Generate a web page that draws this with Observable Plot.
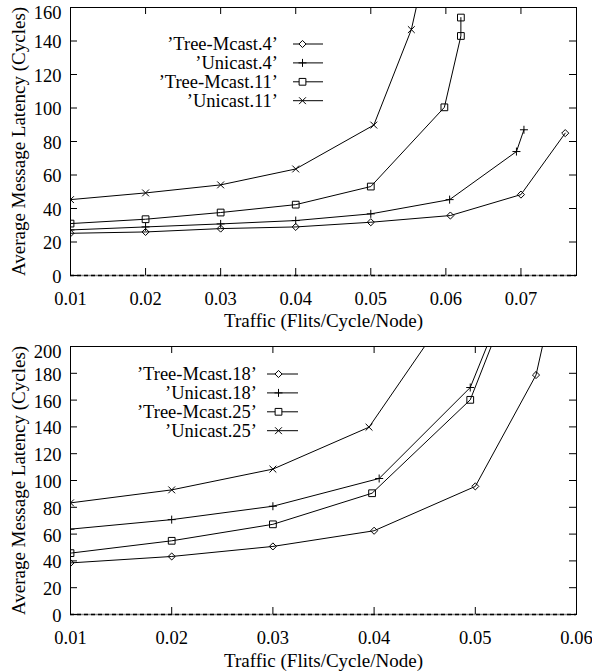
<!DOCTYPE html>
<html>
<head>
<meta charset="utf-8">
<script src="https://cdn.jsdelivr.net/npm/d3@7"></script>
<script src="https://cdn.jsdelivr.net/npm/@observablehq/plot@0.6"></script>
<style>
  body { margin: 0; background: #fff; }
  #chart { width: 592px; }
  #chart svg { display: block; }
</style>
</head>
<body>
<div id="chart"></div>
<script>
// ---------- shared labels ----------
const xTitle = "Traffic (Flits/Cycle/Node)";
const yTitle = "Average Message Latency (Cycles)";

// ---------- top chart data ----------
const topXTicks = [0.01, 0.02, 0.03, 0.04, 0.05, 0.06, 0.07];
const topYTicks = [0, 20, 40, 60, 80, 100, 120, 140, 160];
const topXDomain = [0.01, 0.0774];
const topYDomain = [0, 160];

const treeMcast4X = [0.01, 0.02, 0.03, 0.04, 0.05, 0.0606, 0.07, 0.0759];
const treeMcast4Y = [25.2, 26.0, 28.0, 29.0, 31.8, 35.8, 48.3, 85.0];
const unicast4X = [0.01, 0.02, 0.03, 0.04, 0.05, 0.0605, 0.0694, 0.0704];
const unicast4Y = [27.2, 29.0, 30.8, 32.8, 36.8, 45.3, 74.0, 87.0];
const treeMcast11X = [0.01, 0.02, 0.03, 0.04, 0.05, 0.0598, 0.062, 0.062];
const treeMcast11Y = [31.0, 33.6, 37.6, 42.3, 53.1, 100.4, 143.0, 154.0];
const unicast11X = [0.01, 0.02, 0.03, 0.04, 0.0504, 0.0554, 0.06];
const unicast11Y = [45.3, 49.3, 54.1, 63.6, 89.8, 146.8, 239.0];

// ---------- bottom chart data ----------
const botXTicks = [0.01, 0.02, 0.03, 0.04, 0.05, 0.06];
const botYTicks = [0, 20, 40, 60, 80, 100, 120, 140, 160, 180, 200];
const botXDomain = [0.01, 0.06];
const botYDomain = [0, 200];

const treeMcast18X = [0.01, 0.02, 0.03, 0.04, 0.05, 0.056, 0.058];
const treeMcast18Y = [38.5, 43.3, 50.8, 62.5, 95.6, 178.7, 246.0];
const unicast18X = [0.01, 0.02, 0.03, 0.0405, 0.0495, 0.055];
const unicast18Y = [63.7, 70.8, 80.8, 101.5, 169.4, 272.0];
const treeMcast25X = [0.01, 0.02, 0.03, 0.0398, 0.0495, 0.055];
const treeMcast25Y = [45.8, 55.0, 67.3, 90.5, 160.2, 266.0];
const unicast25X = [0.01, 0.02, 0.03, 0.0395, 0.05];
const unicast25Y = [83.3, 93.0, 108.5, 139.8, 255.0];

// ---------- symbols ----------
const SYM = {
  diamond: { type: d3.symbolDiamond2, r: 3.2 },
  plus:    { type: d3.symbolPlus,     r: 2.7 },
  square:  { type: d3.symbolSquare2,  r: 4.3 },
  times:   { type: d3.symbolTimes,    r: 3.2 }
};

function series(name, xs, ys, sym) {
  return { name, sym, data: xs.map((x, i) => ({ x, y: ys[i] })) };
}

const topSeries = [
  series("\u2019Tree-Mcast.4\u2019", treeMcast4X, treeMcast4Y, "diamond"),
  series("\u2019Unicast.4\u2019", unicast4X, unicast4Y, "plus"),
  series("\u2019Tree-Mcast.11\u2019", treeMcast11X, treeMcast11Y, "square"),
  series("\u2019Unicast.11\u2019", unicast11X, unicast11Y, "times")
];
const botSeries = [
  series("\u2019Tree-Mcast.18\u2019", treeMcast18X, treeMcast18Y, "diamond"),
  series("\u2019Unicast.18\u2019", unicast18X, unicast18Y, "plus"),
  series("\u2019Tree-Mcast.25\u2019", treeMcast25X, treeMcast25Y, "square"),
  series("\u2019Unicast.25\u2019", unicast25X, unicast25Y, "times")
];

const FONT = "'Liberation Serif', 'Times New Roman', Times, serif";
const FS = 18.5;

function legendMark(items, opt) {
  return (index, scales, values, dims) => {
    const g = d3.create("svg:g")
      .attr("font-family", FONT)
      .attr("font-size", FS);
    items.forEach((s, i) => {
      const y = dims.marginTop + opt.row0 + i * opt.rowStep;
      g.append("text")
        .attr("x", dims.marginLeft + opt.textRight)
        .attr("y", y)
        .attr("dy", "0.34em")
        .attr("text-anchor", "end")
        .attr("fill", "black")
        .text(s.name);
      g.append("line")
        .attr("x1", dims.marginLeft + opt.lineX1)
        .attr("x2", dims.marginLeft + opt.lineX2)
        .attr("y1", y).attr("y2", y)
        .attr("stroke", "black")
        .attr("stroke-width", 1);
      const sy = SYM[s.sym];
      g.append("path")
        .attr("transform", `translate(${dims.marginLeft + opt.markerX},${y})`)
        .attr("d", d3.symbol(sy.type, Math.PI * sy.r * sy.r)())
        .attr("fill", "white")
        .attr("stroke", "black")
        .attr("stroke-width", 1);
    });
    return g.node();
  };
}

function makeChart(cfg) {
  const W = 592 - cfg.marginLeft - cfg.marginRight;
  const H = cfg.height - cfg.marginTop - cfg.marginBottom;
  const tl = 7;
  const yMax = cfg.yDomain[1];
  const marks = [
    Plot.frame({ stroke: "black", strokeWidth: 1 }),
    Plot.ruleY([0], { stroke: "#8a8a8a", strokeWidth: 1.4 }),
    Plot.ruleY([0], { stroke: "black", strokeWidth: 1.4, strokeDasharray: "4,3" }),
    Plot.tickX(cfg.xTicks, { x: d => d, insetTop: H - tl, stroke: "black" }),
    Plot.tickX(cfg.xTicks, { x: d => d, insetBottom: H - tl, stroke: "black" }),
    Plot.tickY(cfg.yTicks, { y: d => d, insetRight: W - tl, stroke: "black" }),
    Plot.tickY(cfg.yTicks, { y: d => d, insetLeft: W - tl, stroke: "black" }),
    Plot.axisX({ ticks: cfg.xTicks, tickSize: 0, tickPadding: cfg.xPad, tickFormat: d => d.toFixed(2), label: null, fontSize: FS }),
    Plot.axisY({ ticks: cfg.yTicks.filter(d => d !== yMax), tickSize: 0, tickPadding: 9, dy: 1.5, tickFormat: d => String(d), label: null, fontSize: FS }),
    Plot.axisY({ ticks: [yMax], tickSize: 0, tickPadding: 9, dy: 6, tickFormat: d => String(d), label: null, fontSize: FS }),
    Plot.text([xTitle], { frameAnchor: "bottom", dy: cfg.titleDy, text: d => d, fontSize: 19, textAnchor: "middle", lineAnchor: "middle", fill: "black" }),
    Plot.text([yTitle], { frameAnchor: "left", dx: -52, rotate: -90, text: d => d, fontSize: 19, textAnchor: "middle", lineAnchor: "middle", fill: "black" })
  ];
  for (const s of cfg.series) {
    const sy = SYM[s.sym];
    marks.push(Plot.line(s.data, { x: "x", y: "y", stroke: "black", strokeWidth: 1, clip: true }));
    marks.push(Plot.dot(s.data, { x: "x", y: "y", symbol: sy.type, r: sy.r, stroke: "black", fill: "none", strokeWidth: 1, clip: true }));
  }
  marks.push(legendMark(cfg.series, cfg.legend));
  return Plot.plot({
    width: 592,
    height: cfg.height,
    marginTop: cfg.marginTop,
    marginBottom: cfg.marginBottom,
    marginLeft: cfg.marginLeft,
    marginRight: cfg.marginRight,
    style: { fontFamily: FONT, fontSize: FS + "px", color: "black", background: "white" },
    x: { domain: cfg.xDomain },
    y: { domain: cfg.yDomain },
    marks
  });
}

const chart = document.getElementById("chart");
chart.appendChild(makeChart({
  height: 335, marginTop: 7, marginBottom: 60, marginLeft: 70, marginRight: 16,
  xDomain: topXDomain, yDomain: topYDomain, xTicks: topXTicks, yTicks: topYTicks, xPad: 16, titleDy: 45,
  series: topSeries,
  legend: { textRight: 208, lineX1: 223, lineX2: 253, markerX: 232.5, row0: 37, rowStep: 18.9 }
}));
chart.appendChild(makeChart({
  height: 336, marginTop: 11, marginBottom: 57, marginLeft: 70, marginRight: 16,
  xDomain: botXDomain, yDomain: botYDomain, xTicks: botXTicks, yTicks: botYTicks, xPad: 16, titleDy: 46,
  series: botSeries,
  legend: { textRight: 187, lineX1: 197, lineX2: 228, markerX: 208.5, row0: 28, rowStep: 18.9 }
}));
</script>
</body>
</html>
